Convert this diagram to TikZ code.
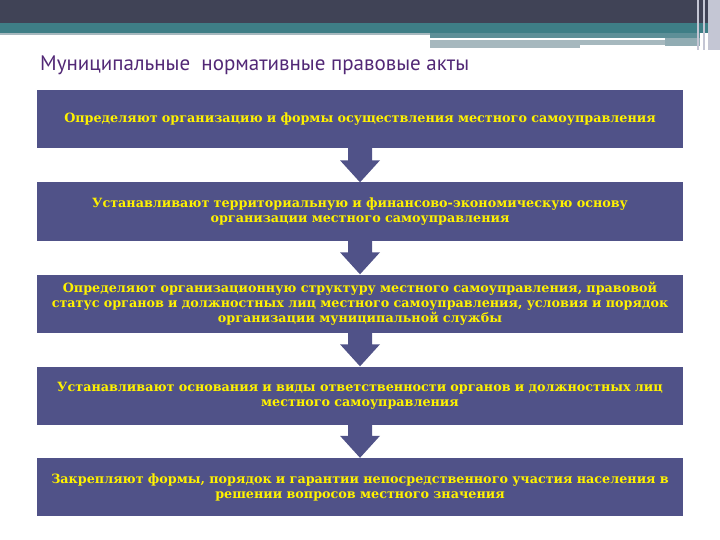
\documentclass[tikz,border=0pt]{standalone}
\usepackage{fontspec}
\setmainfont{DejaVu Serif}
\newfontfamily\titlefont{PT Sans}
\usepackage{xcolor}
\usetikzlibrary{positioning, calc}

\definecolor{boxblue}{RGB}{80,82,136}
\definecolor{titleviolet}{RGB}{82,40,118}
\definecolor{bardark}{RGB}{64,67,86}
\definecolor{barteal}{RGB}{62,126,134}
\definecolor{barlight}{RGB}{166,184,190}
\definecolor{barside}{RGB}{196,198,212}

\begin{document}
\begin{tikzpicture}[x=1pt, y=-1pt,
    actbox/.style={rectangle, fill=boxblue, minimum width=646pt, minimum height=58pt, text width=640pt, align=center, inner sep=0pt, text=yellow, font=\fontsize{12.75}{15}\selectfont\bfseries},
    heading/.style={anchor=base west, inner sep=0pt, text=titleviolet, font=\titlefont\fontsize{21}{24}\selectfont},
    flow/.style={fill=boxblue}
]
\useasboundingbox (0,0) rectangle (720,540);

% Header bars
\fill[bardark] (0,0) rectangle (720,23);
\fill[barteal] (0,23) rectangle (720,33);
\fill[barlight] (0,33) rectangle (430,35.5);
\fill[barteal!70!barlight] (430,33) rectangle (700,38);
\fill[barlight] (430,40) rectangle (665,45);
\fill[barlight] (430,45) rectangle (580,48);
\fill[barlight!80!barteal] (665,38) rectangle (700,46);
\fill[barside] (697,0) rectangle (699,50);
\fill[barside] (703,0) rectangle (705,50);
\fill[barside] (708,0) rectangle (720,50);

% Title
\node[heading] (title) at (40,71) {Муниципальные \ нормативные правовые акты};

% Boxes
\node[actbox] (b1) at (360,119) {Определяют организацию и формы осуществления местного самоуправления};
\node[actbox] (b2) at (360,211.5) {Устанавливают территориальную и финансово-экономическую основу\\ организации местного самоуправления};
\node[actbox] (b3) at (360,303.5) {Определяют организационную структуру местного самоуправления, правовой\\ статус органов и должностных лиц местного самоуправления, условия и порядок\\ организации муниципальной службы};
\node[actbox] (b4) at (360,395.5) {Устанавливают основания и виды ответственности органов и должностных лиц\\ местного самоуправления};
\node[actbox] (b5) at (360,487) {Закрепляют формы, порядок и гарантии непосредственного участия населения в\\ решении вопросов местного значения};

% Arrows
\fill[flow] ($(b1.south)+(-12,0)$) -- ($(b1.south)+(12,0)$) -- ($(b2.north)+(12,-22)$) -- ($(b2.north)+(20,-22)$) -- (b2.north) -- ($(b2.north)+(-20,-22)$) -- ($(b2.north)+(-12,-22)$) -- cycle;
\fill[flow] ($(b2.south)+(-12,0)$) -- ($(b2.south)+(12,0)$) -- ($(b3.north)+(12,-22)$) -- ($(b3.north)+(20,-22)$) -- (b3.north) -- ($(b3.north)+(-20,-22)$) -- ($(b3.north)+(-12,-22)$) -- cycle;
\fill[flow] ($(b3.south)+(-12,0)$) -- ($(b3.south)+(12,0)$) -- ($(b4.north)+(12,-22)$) -- ($(b4.north)+(20,-22)$) -- (b4.north) -- ($(b4.north)+(-20,-22)$) -- ($(b4.north)+(-12,-22)$) -- cycle;
\fill[flow] ($(b4.south)+(-12,0)$) -- ($(b4.south)+(12,0)$) -- ($(b5.north)+(12,-22)$) -- ($(b5.north)+(20,-22)$) -- (b5.north) -- ($(b5.north)+(-20,-22)$) -- ($(b5.north)+(-12,-22)$) -- cycle;
\end{tikzpicture}
\end{document}
